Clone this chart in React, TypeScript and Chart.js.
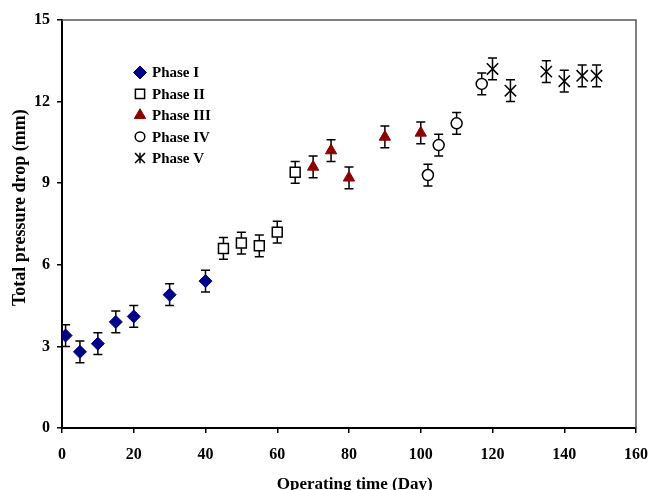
import React, { useEffect, useRef } from 'react';
import { Chart, registerables } from 'chart.js';
import { drawPoint } from 'chart.js/helpers';

Chart.register(...registerables);

// Operating day and total pressure drop (mm) for each operating phase
const phase1Days = [1, 5, 10, 15, 20, 30, 40];
const phase1Drop = [3.4, 2.8, 3.1, 3.9, 4.1, 4.9, 5.4];
const phase2Days = [45, 50, 55, 60, 65];
const phase2Drop = [6.6, 6.8, 6.7, 7.2, 9.4];
const phase3Days = [70, 75, 80, 90, 100];
const phase3Drop = [9.6, 10.2, 9.2, 10.7, 10.85];
const phase4Days = [102, 105, 110, 117];
const phase4Drop = [9.3, 10.4, 11.2, 12.65];
const phase5Days = [120, 125, 135, 140, 145, 149];
const phase5Drop = [13.2, 12.4, 13.1, 12.75, 12.95, 12.95];

// Standard deviation shown by the error bars
const dropError = 0.4;

const phaseLabels = ['Phase I', 'Phase II', 'Phase III', 'Phase IV', 'Phase V'];
const xTitle = 'Operating time (Day)';
const yTitle = 'Total pressure drop (mm)';

const SERIF = '"Liberation Serif", "Times New Roman", serif';

const pairs = (xs: number[], ys: number[]) => xs.map((x, i) => ({ x, y: ys[i] }));

type MarkerStyle = {
  pointStyle: string;
  radius: number;
  legendRadius: number;
  fill: string;
  stroke: string;
  lineWidth: number;
};

const markers: MarkerStyle[] = [
  { pointStyle: 'rectRot', radius: 6.5, legendRadius: 6.5, fill: '#00008b', stroke: '#00008b', lineWidth: 1 },
  { pointStyle: 'rect', radius: 7, legendRadius: 6.5, fill: '#ffffff', stroke: '#000000', lineWidth: 1.5 },
  { pointStyle: 'triangle', radius: 6.5, legendRadius: 6.5, fill: '#8b0000', stroke: '#8b0000', lineWidth: 1 },
  { pointStyle: 'circle', radius: 5.5, legendRadius: 4.8, fill: '#ffffff', stroke: '#000000', lineWidth: 1.5 },
  { pointStyle: 'crossRot', radius: 8, legendRadius: 7, fill: '#000000', stroke: '#000000', lineWidth: 1.5 },
];

const errorBarPlugin = {
  id: 'errorBars',
  beforeDatasetsDraw(chart: any) {
    const { ctx } = chart;
    const yScale = chart.scales.y;
    ctx.save();
    ctx.strokeStyle = '#000';
    ctx.lineWidth = 1.5;
    chart.data.datasets.forEach((ds: any, di: number) => {
      const meta = chart.getDatasetMeta(di);
      meta.data.forEach((el: any, i: number) => {
        const v = ds.data[i].y;
        const top = yScale.getPixelForValue(v + dropError);
        const bot = yScale.getPixelForValue(v - dropError);
        const cap = 4.5;
        ctx.beginPath();
        ctx.moveTo(el.x, top);
        ctx.lineTo(el.x, bot);
        ctx.moveTo(el.x - cap, top);
        ctx.lineTo(el.x + cap, top);
        ctx.moveTo(el.x - cap, bot);
        ctx.lineTo(el.x + cap, bot);
        ctx.stroke();
      });
    });
    ctx.restore();
  },
};

const frameAndLegendPlugin = {
  id: 'frameAndLegend',
  afterDraw(chart: any) {
    const { ctx, chartArea } = chart;
    ctx.save();
    // top and right frame lines
    ctx.strokeStyle = '#555';
    ctx.lineWidth = 1.5;
    ctx.beginPath();
    ctx.moveTo(chartArea.left, chartArea.top);
    ctx.lineTo(chartArea.right, chartArea.top);
    ctx.lineTo(chartArea.right, chartArea.bottom);
    ctx.stroke();

    // axis titles
    ctx.fillStyle = '#000';
    ctx.textAlign = 'center';
    ctx.textBaseline = 'middle';
    ctx.font = `bold 17px ${SERIF}`;
    ctx.fillText(xTitle, chartArea.left + (chartArea.right - chartArea.left) * 0.51, 485);
    ctx.save();
    ctx.translate(20, chartArea.top + (chartArea.bottom - chartArea.top) * 0.46);
    ctx.rotate(-Math.PI / 2);
    ctx.font = `bold 18px ${SERIF}`;
    ctx.fillText(yTitle, 0, 0);
    ctx.restore();

    // legend inside the plot area
    const markerX = 140;
    const textX = 152;
    const firstY = 72.5;
    const rowGap = 21.4;
    ctx.font = `bold 15px ${SERIF}`;
    ctx.textBaseline = 'middle';
    ctx.textAlign = 'left';
    phaseLabels.forEach((label, i) => {
      const m = markers[i];
      const y = firstY + i * rowGap;
      ctx.fillStyle = m.fill;
      ctx.strokeStyle = m.stroke;
      ctx.lineWidth = m.lineWidth;
      drawPoint(ctx, { pointStyle: m.pointStyle as any, rotation: 0, borderWidth: m.lineWidth, radius: m.legendRadius } as any, markerX, y);
      if (m.pointStyle === 'crossRot') {
        ctx.beginPath();
        ctx.moveTo(markerX, y - m.legendRadius * 0.75);
        ctx.lineTo(markerX, y + m.legendRadius * 0.75);
        ctx.stroke();
      }
      ctx.fillStyle = '#000';
      ctx.fillText(label, textX, y + 1);
    });
    ctx.restore();
  },
};

export default function App() {
  const canvasRef = useRef<HTMLCanvasElement | null>(null);

  useEffect(() => {
    if (!canvasRef.current) return;
    const series = [
      pairs(phase1Days, phase1Drop),
      pairs(phase2Days, phase2Drop),
      pairs(phase3Days, phase3Drop),
      pairs(phase4Days, phase4Drop),
      pairs(phase5Days, phase5Drop),
    ];
    const chart = new Chart(canvasRef.current, {
      type: 'scatter',
      data: {
        datasets: series.map((data, i) => ({
          label: phaseLabels[i],
          data,
          pointStyle: markers[i].pointStyle as any,
          pointRadius: markers[i].radius,
          pointHoverRadius: markers[i].radius,
          backgroundColor: markers[i].fill,
          borderColor: markers[i].stroke,
          borderWidth: markers[i].lineWidth,
          showLine: false,
        })),
      },
      options: {
        responsive: false,
        animation: false,
        layout: { padding: { left: 0, top: 20, right: 14, bottom: 0 } },
        plugins: {
          legend: { display: false },
          tooltip: { enabled: false },
        },
        scales: {
          x: {
            type: 'linear',
            min: 0,
            max: 160,
            afterFit(scale: any) {
              scale.height = 62;
              scale.paddingLeft = 0;
              scale.paddingRight = 0;
            },
            ticks: {
              stepSize: 20,
              color: '#000',
              padding: 12,
              font: { family: SERIF, size: 16, weight: 'bold' },
            },
            grid: {
              drawOnChartArea: false,
              drawTicks: true,
              tickLength: 5,
              color: '#000',
              lineWidth: 1.5,
            },
            border: { display: true, color: '#000', width: 2 },
          },
          y: {
            type: 'linear',
            min: 0,
            max: 15,
            afterFit(scale: any) {
              scale.width = 62;
              scale.paddingTop = 0;
              scale.paddingBottom = 0;
            },
            ticks: {
              stepSize: 3,
              color: '#000',
              padding: 7,
              font: { family: SERIF, size: 16, weight: 'bold' },
            },
            grid: {
              drawOnChartArea: false,
              drawTicks: true,
              tickLength: 5,
              color: '#000',
              lineWidth: 1.5,
            },
            border: { display: true, color: '#000', width: 2 },
          },
        },
      },
      plugins: [errorBarPlugin, frameAndLegendPlugin],
    });
    return () => chart.destroy();
  }, []);

  return (
    <div style={{ position: 'absolute', left: 0, top: 0, width: 650, height: 490, background: '#fff' }}>
      <canvas ref={canvasRef} width={650} height={490} />
    </div>
  );
}
